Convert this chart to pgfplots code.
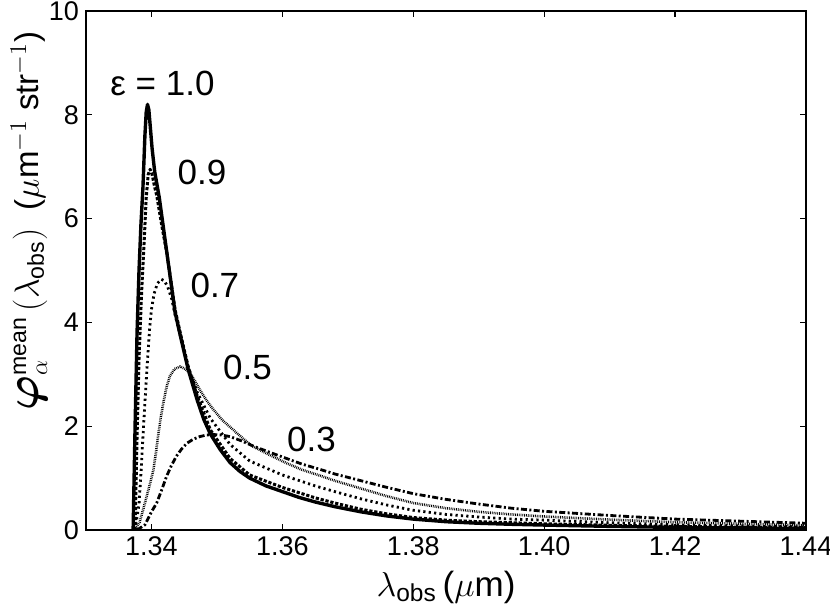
\documentclass[border=0pt]{standalone}
\usepackage{pgfplots}
\pgfplotsset{compat=1.18}
\usepackage{amsmath}
\usepackage{fontspec}
\setmainfont{Liberation Sans}
\newcommand{\labfont}{\fontsize{17.5}{20}\selectfont}
\begin{document}
\begin{tikzpicture}
\path[use as bounding box] (-43pt,-39.5pt) rectangle (372pt,265pt);
\begin{axis}[
  at={(0,0)}, anchor=south west,
  scale only axis, width=360pt, height=259.5pt,
  xmin=1.33, xmax=1.44, ymin=0, ymax=10,
  xtick={1.34,1.36,1.38,1.40,1.42,1.44},
  ytick={0,2,4,6,8,10},
  tick align=inside, major tick length=3pt,
  axis line style={line width=0.9pt},
  every tick/.style={line width=0.6pt, black},
  /pgf/number format/assume math mode=true,
  ticklabel style={font=\fontsize{13.5}{15}\selectfont},
  xticklabel style={/pgf/number format/.cd, fixed, fixed zerofill, precision=2},
  yticklabel style={/pgf/number format/.cd, fixed, precision=0},
  xlabel={$\lambda_{\text{obs}}$\,($\mu$m)},
  ylabel={\scalebox{1.35}{$\boldsymbol{\varphi}$}$^{\text{mean}}_{\alpha}\,(\lambda_{\text{obs}})$\ \ ($\mu$m$^{-1}$ str$^{-1}$)},
  xlabel style={font=\labfont, at={(axis description cs:0.5,-0.11)}, anchor=center},
  ylabel style={font=\fontsize{16.5}{19}\selectfont, at={(axis description cs:-0.079,0.595)}, anchor=center},
  clip=true,
  every axis plot/.append style={line join=round},
]
% eps = 1.0
\addplot[black, line width=1.7pt] coordinates {
(1.3372,0) (1.3375,2.0) (1.3378,3.8) (1.3381,5.0) (1.3384,5.9) (1.3387,6.6) (1.3390,7.6) (1.3392,8.05) (1.3394,8.2)
(1.3396,8.1) (1.3398,7.8) (1.3401,7.35) (1.3405,6.9) (1.3412,6.4) (1.3418,5.85) (1.3424,5.3) (1.3430,4.75)
(1.3436,4.2) (1.3444,3.75) (1.3456,3.1) (1.3470,2.5) (1.3480,2.13) (1.3490,1.85) (1.3505,1.55) (1.3520,1.3)
(1.3535,1.13) (1.3550,1.0) (1.3575,0.85) (1.3600,0.74) (1.3625,0.63) (1.3650,0.54) (1.3680,0.45) (1.3720,0.35)
(1.3760,0.27) (1.3800,0.21) (1.3850,0.16) (1.3900,0.13) (1.3950,0.11) (1.4000,0.095) (1.41,0.07) (1.42,0.05)
(1.43,0.04) (1.44,0.03)};
% eps = 0.9
\addplot[black, line width=1.5pt, dash pattern=on 1.6pt off 0.9pt] coordinates {
(1.3375,0) (1.3378,1.8) (1.3381,3.3) (1.3385,4.6) (1.3389,5.6) (1.3392,6.4) (1.3395,6.85) (1.3398,6.95)
(1.3401,6.85) (1.3405,6.6) (1.3408,6.45) (1.3416,5.85) (1.3424,5.3) (1.3436,4.25) (1.3444,3.8) (1.3456,3.15)
(1.3470,2.58) (1.3490,1.93) (1.3520,1.38) (1.3550,1.06) (1.3600,0.82) (1.3650,0.62) (1.3680,0.52) (1.3720,0.4)
(1.3760,0.31) (1.3800,0.24) (1.3850,0.19) (1.3900,0.16) (1.3950,0.14) (1.4000,0.12) (1.41,0.09) (1.42,0.07)
(1.43,0.055) (1.44,0.045)};
% eps = 0.7
\addplot[black, line width=1.4pt, dash pattern=on 1.1pt off 1.6pt] coordinates {
(1.3375,0) (1.3381,0.5) (1.3384,1.1) (1.3387,1.8) (1.3390,2.45) (1.3393,3.08) (1.3397,3.85) (1.3400,4.25)
(1.3404,4.55) (1.3409,4.75) (1.3415,4.83) (1.3420,4.8) (1.3425,4.68) (1.3431,4.45) (1.3436,4.15) (1.3444,3.75)
(1.3456,3.15) (1.3470,2.65) (1.3490,2.15) (1.3520,1.65) (1.3550,1.33) (1.3600,1.06) (1.3650,0.85) (1.3680,0.74)
(1.3720,0.6) (1.3760,0.48) (1.3800,0.38) (1.3850,0.3) (1.3900,0.25) (1.3950,0.21) (1.4000,0.19) (1.41,0.14)
(1.42,0.1) (1.43,0.08) (1.44,0.06)};
% eps = 0.5
\addplot[black, line width=1.3pt, dash pattern=on 0.4pt off 0.5pt] coordinates {
(1.3374,0) (1.3382,0.15) (1.3390,0.52) (1.3397,0.85) (1.3403,1.16) (1.3407,1.5) (1.3410,1.8) (1.3414,2.15)
(1.3418,2.44) (1.3423,2.75) (1.3428,2.96) (1.3435,3.1) (1.3444,3.15) (1.3452,3.1) (1.3459,3.02) (1.3466,2.88)
(1.3474,2.70) (1.3484,2.5) (1.3494,2.33) (1.3508,2.12) (1.3525,1.93) (1.3540,1.76) (1.3555,1.61) (1.3580,1.45)
(1.3606,1.29) (1.3630,1.16) (1.3657,1.05) (1.3680,0.95) (1.3720,0.8) (1.3760,0.65) (1.3800,0.52) (1.3850,0.42)
(1.3900,0.35) (1.3950,0.3) (1.4000,0.26) (1.41,0.2) (1.42,0.15) (1.43,0.12) (1.44,0.09)};
% eps = 0.3
\addplot[black, line width=1.4pt, dash pattern=on 3pt off 1.2pt on 1pt off 1.2pt] coordinates {
(1.3378,0) (1.3390,0.1) (1.3400,0.35) (1.3408,0.52) (1.3415,0.75) (1.3423,1.03) (1.3430,1.23) (1.3438,1.42)
(1.3446,1.56) (1.3454,1.67) (1.3464,1.75) (1.3474,1.80) (1.3484,1.83) (1.3494,1.84) (1.3507,1.83) (1.3520,1.80)
(1.3537,1.72) (1.3555,1.62) (1.3580,1.5) (1.3606,1.38) (1.3630,1.27) (1.3657,1.17) (1.3680,1.08) (1.3720,0.95)
(1.3760,0.82) (1.3800,0.7) (1.3850,0.59) (1.3900,0.5) (1.3950,0.42) (1.4000,0.36) (1.41,0.28) (1.42,0.21)
(1.43,0.17) (1.44,0.13)};
\node[font=\labfont] at (axis cs:1.34168,8.61) {ε = 1.0};
\node[font=\labfont] at (axis cs:1.34771,6.89) {0.9};
\node[font=\labfont] at (axis cs:1.34969,4.72) {0.7};
\node[font=\labfont] at (axis cs:1.35466,3.14) {0.5};
\node[font=\labfont] at (axis cs:1.36446,1.75) {0.3};
\end{axis}
\end{tikzpicture}
\end{document}
